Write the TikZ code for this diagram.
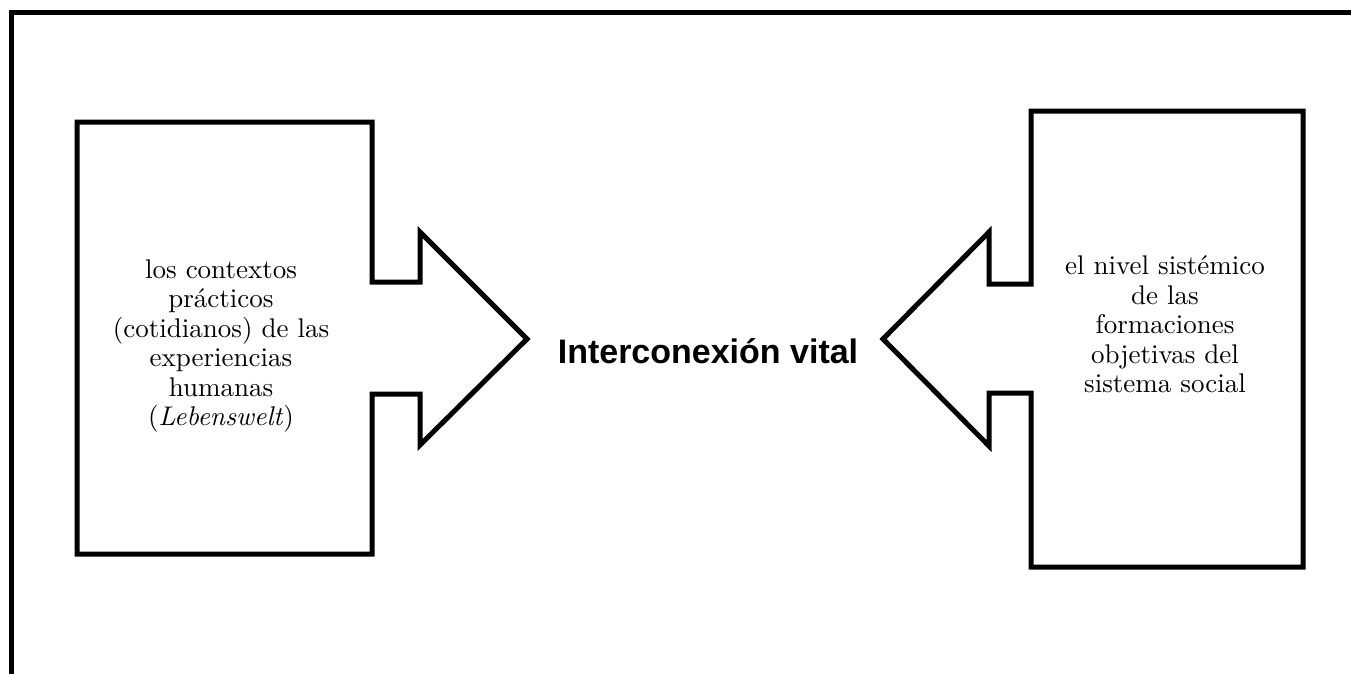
\documentclass[tikz,border=0pt]{standalone}
\usepackage{fontspec}
\setmainfont{lmroman10-regular}[Extension=.otf,ItalicFont=lmroman10-italic,BoldFont=lmroman10-bold]
\newfontfamily\headsans{Liberation Sans}
\begin{document}
\begin{tikzpicture}[x=1pt,y=-1pt,
  outline/.style={draw=black,line width=5pt,line join=miter},
  bodytext/.style={align=center,inner sep=0pt,font=\fontsize{27}{29.5}\selectfont},
  headtext/.style={inner sep=0pt,font=\headsans\bfseries\fontsize{34}{40}\selectfont}]
\useasboundingbox (0,0) rectangle (1351,673);
% outer frame, running off the page to the right and bottom
\draw[outline] (11,690) -- (11,12) -- (1370,12);
% left box with arrow pointing right
\draw[outline] (77,122) -- (372,122) -- (372,282) -- (420,282) -- (420,232)
  -- (527,339) -- (420,445) -- (420,394) -- (372,394) -- (372,554)
  -- (77,554) -- cycle;
% right box with arrow pointing left
\draw[outline] (1303,111) -- (1031,111) -- (1031,284) -- (989,284) -- (989,232)
  -- (883,339) -- (989,446) -- (989,393) -- (1031,393) -- (1031,567)
  -- (1303,567) -- cycle;
\node[bodytext] (lifeworld) at (221,346) {los contextos\\prácticos\\(cotidianos) de las\\experiencias\\humanas\\(\textit{Lebenswelt})};
\node[bodytext] (system) at (1165,324.5) {el nivel sistémico\\de las\\formaciones\\objetivas del\\sistema social};
\node[headtext,anchor=base] (link) at (708,363) {Interconexión vital};
\end{tikzpicture}
\end{document}
